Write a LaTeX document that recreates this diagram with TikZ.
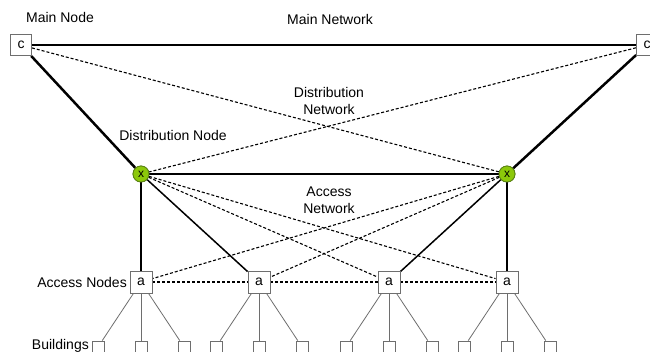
\documentclass[tikz,border=0pt]{standalone}
\usepackage{fontspec}
\setmainfont{Liberation Sans}
\definecolor{xgreen}{RGB}{140,200,10}
\definecolor{xborder}{RGB}{90,130,20}
\definecolor{boxgray}{RGB}{110,110,110}
\begin{document}
\begin{tikzpicture}[x=1pt,y=-1pt,
  every node/.style={font=\fontsize{14}{16.5}\selectfont, inner sep=0pt},
  cbox/.style={draw=boxgray, line width=0.9pt, fill=white, minimum width=21pt, minimum height=21pt},
  abox/.style={draw=boxgray, line width=0.9pt, fill=white, minimum width=22pt, minimum height=22pt},
  bbox/.style={draw=boxgray, line width=0.9pt, fill=white, minimum width=12pt, minimum height=12pt},
  xnode/.style={circle, draw=xborder, line width=0.8pt, fill=xgreen, minimum size=16pt, font=\fontsize{12}{14}\selectfont},
  thickline/.style={line width=2.5pt},
  midline/.style={line width=1.5pt},
  dashline/.style={line width=1.1pt, dash pattern=on 3pt off 2pt},
  blink/.style={line width=0.8pt, draw=boxgray},
  lbl/.style={align=center}
]
\useasboundingbox (0,0) rectangle (650,351);

% nodes
\node[cbox] (c1) at (21,45) {c};
\node[cbox] (c2) at (647,45) {c};
\node[xnode] (x1) at (141,174) {x};
\node[xnode] (x2) at (507,174) {x};
\node[abox] (a1) at (141,282) {a};
\node[abox] (a2) at (259,282) {a};
\node[abox] (a3) at (389,282) {a};
\node[abox] (a4) at (507,282) {a};

% buildings
\foreach \i in {1,2,3,4}{
  \path (a\i) ++(-43,65) node[bbox] (b\i l) {};
  \path (a\i) ++(0,65) node[bbox] (b\i m) {};
  \path (a\i) ++(43,65) node[bbox] (b\i r) {};
  \draw[blink] (a\i) -- (b\i l);
  \draw[blink] (a\i) -- (b\i m);
  \draw[blink] (a\i) -- (b\i r);
}

% main network
\draw[thickline] (c1) -- (c2);
\draw[thickline] (c1) -- (x1);
\draw[thickline] (c2) -- (x2);
\draw[dashline] (c1) -- (x2);
\draw[dashline] (c2) -- (x1);
\draw[thickline] (x1) -- (x2);

% access
\draw[midline] (x1) -- (a1);
\draw[midline] (x1) -- (a2);
\draw[midline] (x2) -- (a3);
\draw[midline] (x2) -- (a4);
\draw[dashline] (x1) -- (a3);
\draw[dashline] (x1) -- (a4);
\draw[dashline] (x2) -- (a1);
\draw[dashline] (x2) -- (a2);
\draw[dashline] (a1) -- (a2);
\draw[dashline] (a2) -- (a3);
\draw[dashline] (a3) -- (a4);

% redraw nodes on top
\node[cbox] at (c1) {c};
\node[cbox] at (c2) {c};
\node[xnode] at (x1) {x};
\node[xnode] at (x2) {x};
\foreach \i in {1,2,3,4}{ \node[abox] at (a\i) {a}; }

% labels
\node (lmainnode) at (60,17) {Main Node};
\node (lmainnet) at (330,19) {Main Network};
\node[lbl] (ldistnet) at (329,101) {Distribution\\Network};
\node (ldistnode) at (173,135) {Distribution Node};
\node[lbl] (laccnet) at (329,200) {Access\\Network};
\node[anchor=east] (laccnodes) at (127,282) {Access Nodes};
\node[anchor=east] (lbuild) at (89,346) {Buildings};
\end{tikzpicture}
\end{document}
